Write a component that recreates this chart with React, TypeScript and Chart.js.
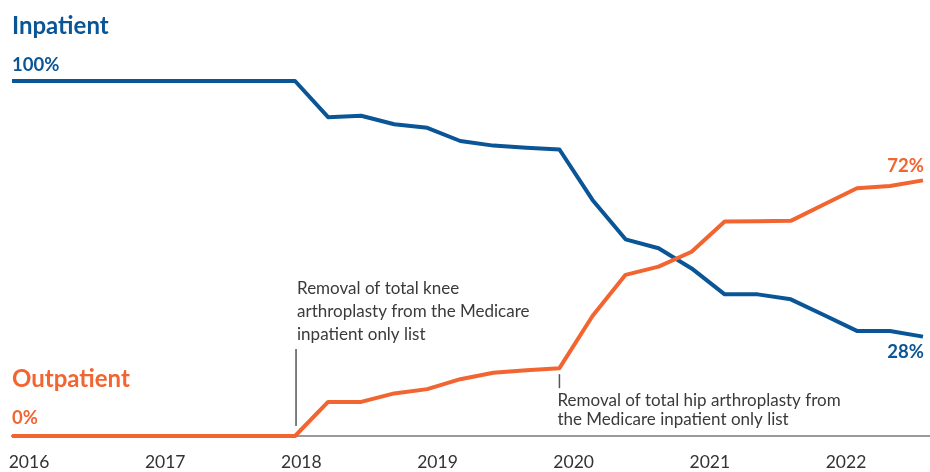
import React, { useEffect, useRef } from 'react';
import { Chart, registerables } from 'chart.js';

Chart.register(...registerables);

// Quarter positions (decimal years)
const quarters = [
  2015.75, 2016, 2016.25, 2016.5, 2016.75, 2017, 2017.25, 2017.5, 2017.75,
  2018, 2018.25, 2018.5, 2018.75, 2019, 2019.25, 2019.5, 2019.75,
  2020, 2020.25, 2020.5, 2020.75, 2021, 2021.25, 2021.5, 2021.75,
  2022, 2022.25, 2022.5, 2022.75,
];

const inpatient = [
  100, 100, 100, 100, 100, 100, 100, 100, 100,
  100, 89.8, 90.2, 87.8, 86.8, 83.1, 81.8, 81.2,
  80.7, 66.5, 55.4, 52.9, 47.2, 39.9, 39.9, 38.5,
  34.1, 29.6, 29.6, 28.0,
];

const outpatient = [
  0, 0, 0, 0, 0, 0, 0, 0, 0,
  0, 9.6, 9.6, 12.0, 13.2, 16.0, 17.8, 18.5,
  19.1, 33.8, 45.4, 47.7, 51.9, 60.4, 60.5, 60.6,
  65.2, 69.8, 70.4, 72.0,
];

const yearTicks = [2016, 2017, 2018, 2019, 2020, 2021, 2022];

const seriesNames = ['Inpatient', 'Outpatient'];
const endLabels = ['28%', '72%'];
const startLabels = ['100%', '0%'];

const kneeNote = {
  at: 2018,
  lines: ['Removal of total knee', 'arthroplasty from the Medicare', 'inpatient only list'],
};
const hipNote = {
  at: 2020,
  lines: ['Removal of total hip arthroplasty from', 'the Medicare inpatient only list'],
};

const BLUE = '#0a5596';
const ORANGE = '#f26430';
const TEXT = '#3a3a3a';
const FONT = 'Lato, "Open Sans", sans-serif';

const textPlugin = {
  id: 'textPlugin',
  afterDatasetsDraw(chart: any) {
    const { ctx, chartArea, scales } = chart;
    const xs = scales.x;
    const ys = scales.y;
    const y100 = ys.getPixelForValue(100);
    const y0 = ys.getPixelForValue(0);
    const left = chartArea.left;
    ctx.save();

    // Series titles and start values
    ctx.textAlign = 'left';
    ctx.textBaseline = 'alphabetic';
    ctx.fillStyle = BLUE;
    ctx.font = `bold 24px ${FONT}`;
    ctx.fillText(seriesNames[0], left, y100 - 47);
    ctx.font = `bold 18.5px ${FONT}`;
    ctx.fillText(startLabels[0], left, y100 - 10);

    ctx.fillStyle = ORANGE;
    ctx.font = `bold 24px ${FONT}`;
    ctx.fillText(seriesNames[1], left, y0 - 49);
    ctx.font = `bold 18.5px ${FONT}`;
    ctx.fillText(startLabels[1], left, y0 - 12);

    // End values
    const n = quarters.length - 1;
    const xEnd = xs.getPixelForValue(quarters[n]);
    ctx.textAlign = 'right';
    ctx.fillStyle = ORANGE;
    ctx.fillText(endLabels[1], xEnd + 1, ys.getPixelForValue(outpatient[n]) - 8);
    ctx.fillStyle = BLUE;
    ctx.fillText(endLabels[0], xEnd + 1, ys.getPixelForValue(inpatient[n]) + 21);

    // Knee annotation
    ctx.strokeStyle = '#555';
    ctx.lineWidth = 1.5;
    const kx = xs.getPixelForValue(kneeNote.at) + 1;
    ctx.beginPath();
    ctx.moveTo(kx, y0 - 10);
    ctx.lineTo(kx, y0 - 87);
    ctx.stroke();
    ctx.textAlign = 'left';
    ctx.fillStyle = TEXT;
    ctx.font = `17px ${FONT}`;
    kneeNote.lines.forEach((l, i) => ctx.fillText(l, kx + 1, y0 - 142 + i * 23));

    // Hip annotation
    const hIdx = quarters.indexOf(hipNote.at);
    const hx = xs.getPixelForValue(hipNote.at);
    const hy = ys.getPixelForValue(outpatient[hIdx]);
    ctx.beginPath();
    ctx.moveTo(hx, hy + 6);
    ctx.lineTo(hx, hy + 20);
    ctx.stroke();
    hipNote.lines.forEach((l, i) => ctx.fillText(l, hx - 2, y0 - 30 + i * 19));

    ctx.restore();
  },
};

export default function App() {
  const ref = useRef<HTMLCanvasElement | null>(null);

  useEffect(() => {
    document.body.style.margin = '0';
    if (!ref.current) return;
    const chart = new Chart(ref.current, {
      type: 'line',
      data: {
        datasets: [
          {
            label: seriesNames[1],
            data: quarters.map((q, i) => ({ x: q, y: outpatient[i] })),
            borderColor: ORANGE,
            backgroundColor: ORANGE,
            borderWidth: 4,
            pointRadius: 0,
            tension: 0,
            borderJoinStyle: 'round',
            clip: { left: 0, top: false, right: false, bottom: false },
            xAxisID: 'x',
            yAxisID: 'y',
          },
          {
            label: seriesNames[0],
            data: quarters.map((q, i) => ({ x: q, y: inpatient[i] })),
            borderColor: BLUE,
            backgroundColor: BLUE,
            borderWidth: 4,
            pointRadius: 0,
            tension: 0,
            borderJoinStyle: 'round',
            clip: { left: 0, top: false, right: false, bottom: false },
            xAxisID: 'x',
            yAxisID: 'y',
          },
        ],
      },
      options: {
        animation: false,
        responsive: true,
        maintainAspectRatio: false,
        layout: { padding: { left: 12, top: 81, right: 0, bottom: 0 } },
        plugins: { legend: { display: false }, tooltip: { enabled: false } },
        scales: {
          x: {
            type: 'linear',
            display: false,
            min: 2015.859,
            max: 2022.803,
          },
          xYears: {
            type: 'linear',
            position: 'bottom',
            min: 2015.875,
            max: 2022.617,
            afterBuildTicks: (axis: any) => {
              axis.ticks = yearTicks.map((v) => ({ value: v }));
            },
            afterFit: (axis: any) => {
              axis.height = 36;
              axis.paddingLeft = 0;
              axis.paddingRight = 0;
            },
            ticks: {
              callback: (v: any) => String(v),
              font: { family: FONT, size: 17.5, lineHeight: 1 },
              color: '#333',
              padding: 18,
              maxRotation: 0,
              autoSkip: false,
            },
            grid: { display: false, drawTicks: false },
            border: { display: true, color: '#9a9a9a', width: 2 },
          },
          y: {
            type: 'linear',
            display: false,
            min: 0,
            max: 100,
          },
        },
      },
      plugins: [textPlugin],
    } as any);
    return () => chart.destroy();
  }, []);

  return (
    <div style={{ width: 930, height: 472, position: 'relative' }}>
      <canvas ref={ref} />
    </div>
  );
}
